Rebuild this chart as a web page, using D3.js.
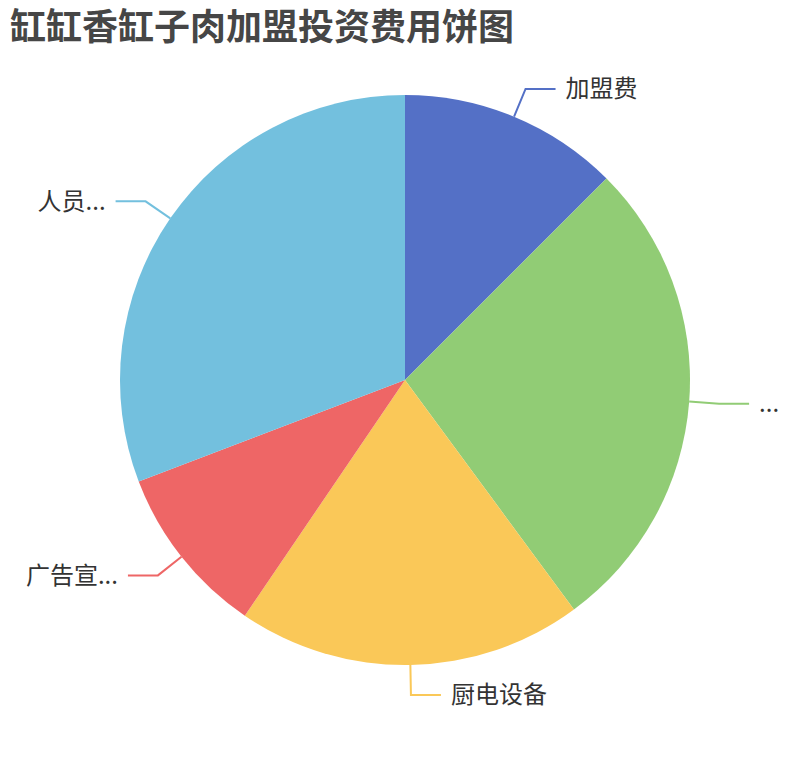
<!DOCTYPE html>
<html>
<head>
<meta charset="utf-8">
<script src="https://cdn.jsdelivr.net/npm/d3@7.9.0/dist/d3.min.js"></script>
<style>
  body { margin: 0; background: #fff; }
  svg { display: block; font-family: "Noto Sans CJK SC", "Noto Sans", sans-serif; }
</style>
</head>
<body>
<svg id="chart"></svg>
<script>
// Chart data (labels as they are shown, truncated ones included)
const categories = ["加盟费", "...", "厨电设备", "广告宣...", "人员..."];
const values = [12.5, 27.4, 19.6, 9.7, 30.8];
const colors = ["#5470c6", "#91cc75", "#fac858", "#ee6666", "#73c0de"];
const title = "缸缸香缸子肉加盟投资费用饼图";

const width = 810,
      height = 760,
      radius = 285,
      len1 = 30,   // first label line segment (radial)
      len2 = 30;   // second label line segment (horizontal)

const svg = d3.select("#chart")
  .attr("width", width)
  .attr("height", height);

// Title
svg.append("text")
  .attr("x", 10)
  .attr("y", 40)
  .style("font-size", "36px")
  .style("font-weight", "bold")
  .attr("fill", "#464646")
  .text(title);

const data = categories.map((c, i) => ({ name: c, value: values[i], color: colors[i] }));

const pie = d3.pie()
  .sort(null)
  .value(d => d.value);

const arc = d3.arc()
  .innerRadius(0)
  .outerRadius(radius);

// arcs used only to find points on the edge / label line bend
const edgeArc = d3.arc().innerRadius(radius).outerRadius(radius);
const bendArc = d3.arc().innerRadius(radius + len1).outerRadius(radius + len1);

const g = svg.append("g")
  .attr("transform", `translate(${width / 2},${height / 2})`);

const arcs = pie(data);

// Slices
g.selectAll("path.slice")
  .data(arcs)
  .enter()
  .append("path")
  .attr("class", "slice")
  .attr("d", arc)
  .attr("fill", d => d.data.color);

const side = d => ((d.startAngle + d.endAngle) / 2 < Math.PI ? 1 : -1);

// Label lines
g.selectAll("polyline")
  .data(arcs)
  .enter()
  .append("polyline")
  .attr("points", d => {
    const p0 = edgeArc.centroid(d);
    const p1 = bendArc.centroid(d);
    const p2 = [p1[0] + side(d) * len2, p1[1]];
    return [p0, p1, p2].map(p => p.join(",")).join(" ");
  })
  .attr("fill", "none")
  .attr("stroke", d => d.data.color)
  .attr("stroke-width", 2);

// Labels
g.selectAll("text.label")
  .data(arcs)
  .enter()
  .append("text")
  .attr("class", "label")
  .attr("x", d => bendArc.centroid(d)[0] + side(d) * (len2 + 10))
  .attr("y", d => bendArc.centroid(d)[1])
  .attr("dy", "0.35em")
  .attr("text-anchor", d => (side(d) > 0 ? "start" : "end"))
  .style("font-size", "24px")
  .attr("fill", "#333")
  .text(d => d.data.name);
</script>
</body>
</html>
